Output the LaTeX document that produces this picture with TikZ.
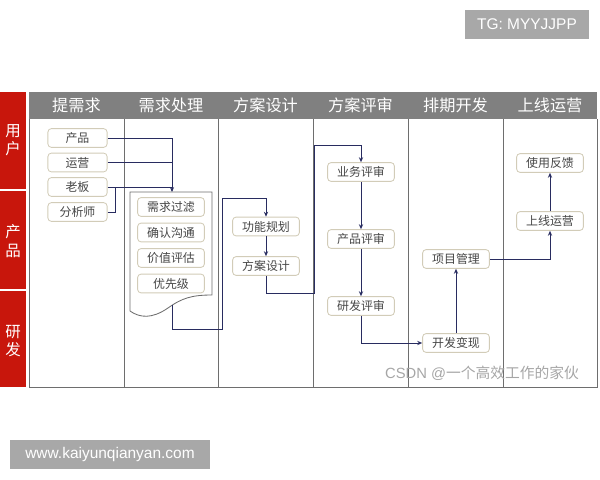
\documentclass[tikz,border=0pt]{standalone}
\usepackage{fontspec}
\setmainfont{Liberation Sans}
\newfontfamily\cjk{Noto Sans CJK SC}
\usetikzlibrary{arrows.meta}
\definecolor{lanered}{RGB}{200,22,12}
\definecolor{headgray}{RGB}{128,128,128}
\definecolor{laneline}{RGB}{110,110,110}
\definecolor{boxline}{RGB}{210,204,184}
\definecolor{flowblue}{RGB}{40,44,96}
\definecolor{marktag}{RGB}{168,168,168}
\definecolor{boxtext}{RGB}{70,70,70}
\begin{document}
\begin{tikzpicture}[x=0.025cm,y=-0.025cm,
  box/.style={draw=boxline, fill=white, line width=0.6pt, rounded corners=2.5pt, minimum width=1.67cm,
    minimum height=0.47cm, inner sep=0pt, text=boxtext, font=\cjk\fontsize{8.5}{8.5}\selectfont},
  srcbox/.style={box, minimum width=1.48cm},
  flow/.style={draw=flowblue, line width=0.7pt},
  arr/.style={flow, -{Stealth[length=3.5pt,width=3pt]}},
  head/.style={text=white, font=\cjk\fontsize{11.5}{11.5}\selectfont},
  lane/.style={text=white, align=center, font=\cjk\fontsize{11}{13}\selectfont},
  tag/.style={fill=marktag, text=white, inner sep=0pt, font=\fontsize{11}{11}\selectfont}]
\useasboundingbox (0,0) rectangle (600,480);

% role column
\fill[lanered] (0,92) rectangle (26,189);
\fill[lanered] (0,191) rectangle (26,289);
\fill[lanered] (0,291) rectangle (26,387);
\node[lane] (l-user) at (13,140) {用\\户};
\node[lane] (l-prod) at (13,241) {产\\品};
\node[lane] (l-dev) at (13,341) {研\\发};

% header and lanes
\fill[headgray] (29,92) rectangle (597,119);
\draw[laneline, line width=0.7pt] (29,119) -- (29,387) -- (597,387) -- (597,119);
\draw[laneline, line width=0.7pt] (124,119) -- (124,387);
\draw[laneline, line width=0.7pt] (218,119) -- (218,387);
\draw[laneline, line width=0.7pt] (313,119) -- (313,387);
\draw[laneline, line width=0.7pt] (408,119) -- (408,387);
\draw[laneline, line width=0.7pt] (503,119) -- (503,387);
\node[head] (h-ask) at (76.5,105.5) {提需求};
\node[head] (h-handle) at (171,105.5) {需求处理};
\node[head] (h-design) at (265.5,105.5) {方案设计};
\node[head] (h-review) at (360.5,105.5) {方案评审};
\node[head] (h-plan) at (455.5,105.5) {排期开发};
\node[head] (h-online) at (550,105.5) {上线运营};

% requirement sources
\node[srcbox] (u-chanpin) at (77.5,138) {产品};
\node[srcbox] (u-yunying) at (77.5,162.5) {运营};
\node[srcbox] (u-laoban) at (77.5,187) {老板};
\node[srcbox] (u-fenxi) at (77.5,212) {分析师};

% requirement document
\draw[laneline, fill=white, line width=0.6pt] (130,192) -- (212,192) -- (212,295)
  .. controls (192,295) and (182,298) .. (168,308)
  .. controls (152,319) and (140,318) .. (130,311) -- cycle;
\coordinate (doctop) at (172,192);
\coordinate (docbot) at (172,305);
\node[box] (c-filter) at (171,207) {需求过滤};
\node[box] (c-confirm) at (171,232.5) {确认沟通};
\node[box] (c-value) at (171,258) {价值评估};
\node[box] (c-prio) at (171,283.5) {优先级};

% design
\node[box] (p-gongneng) at (266,226.5) {功能规划};
\node[box] (p-fangan) at (266,266) {方案设计};

% review
\node[box] (r-yewu) at (361,172) {业务评审};
\node[box] (r-chanpin) at (361,239) {产品评审};
\node[box] (r-yanfa) at (361,306) {研发评审};

% development
\node[box] (d-xiangmu) at (456,259) {项目管理};
\node[box] (d-kaifa) at (456,343) {开发变现};

% online
\node[box] (o-shiyong) at (550,163) {使用反馈};
\node[box] (o-shangxian) at (550,221) {上线运营};

% connectors
\draw[arr] (u-chanpin.east) -| (doctop);
\draw[flow] (u-yunying.east) -- (u-yunying.east -| doctop);
\draw[flow] (u-laoban.east) -- (u-laoban.east -| doctop);
\draw[flow] (u-fenxi.east) -- ++(8,0) |- (u-laoban.east);
\draw[arr] (docbot) |- (222,329) -- (222,198) -| (p-gongneng.north);
\draw[arr] (p-gongneng) -- (p-fangan);
\draw[arr] (p-fangan.south) |- (314,293) -- (314,145) -| (r-yewu.north);
\draw[arr] (r-yewu) -- (r-chanpin);
\draw[arr] (r-chanpin) -- (r-yanfa);
\draw[arr] (r-yanfa.south) |- (d-kaifa.west);
\draw[arr] (d-kaifa) -- (d-xiangmu);
\draw[arr] (d-xiangmu.east) -| (o-shangxian.south);
\draw[arr] (o-shangxian) -- (o-shiyong);

% marks
\node[text=gray!70, font=\fontsize{10.5}{10.5}\selectfont] (csdn) at (482,373) {CSDN @{\cjk 一个高效工作的家伙}};
\node[tag, minimum width=3.1cm, minimum height=0.73cm] (tg) at (527,24.5) {TG: MYYJJPP};
\node[tag, minimum width=5cm, minimum height=0.73cm] (www) at (110,454.5) {www.kaiyunqianyan.com};
\end{tikzpicture}
\end{document}
